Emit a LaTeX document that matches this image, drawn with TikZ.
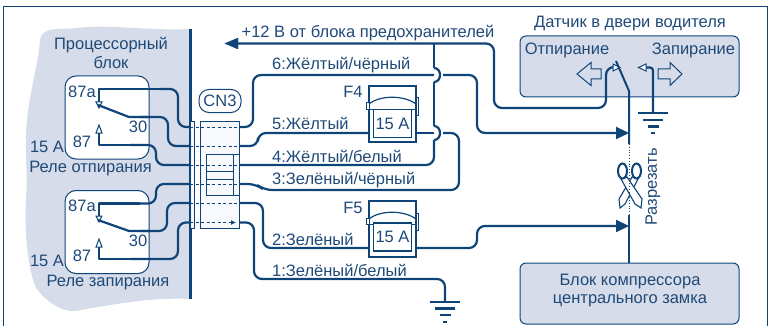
\documentclass[tikz,border=0pt]{standalone}
\usepackage{fontspec}
\setmainfont{Liberation Sans}
\usetikzlibrary{arrows.meta}
\definecolor{ink}{HTML}{0F4479}
\definecolor{txt}{HTML}{1F4A78}
\definecolor{panel}{HTML}{D6DCE9}
\definecolor{pale}{HTML}{F8F9FC}
\tikzset{
  wire/.style={draw=ink,line width=2.2pt,rounded corners=8pt,line join=round},
  thinl/.style={draw=ink,line width=1pt},
  pinline/.style={draw=ink,line width=.8pt,dash pattern=on 3pt off 2.5pt},
  lbl/.style={text=txt,font=\fontsize{16.5}{17}\selectfont,inner sep=0pt},
  llbl/.style={lbl,anchor=west},
  relaybox/.style={draw=ink,line width=1pt,fill=white,rounded corners=11pt,minimum width=84pt,minimum height=83pt,inner sep=0pt},
  greybox/.style={draw=ink,line width=1pt,fill=panel,rounded corners=6pt,minimum width=219pt,minimum height=61pt,inner sep=0pt},
  fuseout/.style={draw=ink,line width=1.2pt,fill=white,minimum width=47pt,minimum height=56pt,inner sep=0pt},
  fusein/.style={draw=ink,line width=1.2pt,fill=white,minimum width=38pt,minimum height=28pt,inner sep=0pt,text=txt,font=\fontsize{16.5}{17}\selectfont},
  bigtip/.style={-{Triangle[length=13pt,width=12pt]}},
  gbar/.style={draw=ink,line width=2.3pt},
  hollow/.style={draw=ink,line width=1pt,fill=white,line join=miter},
}
\begin{document}
\begin{tikzpicture}[x=1pt,y=-1pt]
\useasboundingbox (0,0) rectangle (775,326);
% outer frame
\draw[ink,line width=1pt] (3.5,326) -- (3.5,7) -- (767,7) -- (767,326);
% processor block
\fill[panel] (190,29) .. controls (150,31) and (110,24) .. (76,28)
  .. controls (60,30) and (42,26) .. (40,40)
  .. controls (39,60) and (30,90) .. (27,120)
  .. controls (24,150) and (28,170) .. (26,200)
  .. controls (24,230) and (28,270) .. (36,288)
  .. controls (45,300) and (60,312) .. (75,311)
  .. controls (110,305) and (150,297) .. (190,299) -- cycle;
\draw[ink,line width=3pt] (190,29) -- (190,299);
\node[lbl] (t1) at (111,45) {Процессорный};
\node[lbl] (t2) at (111,63) {блок};
% relays
\node[relaybox] (r1) at (107,117.5) {};
\node[relaybox] (r2) at (107,232) {};
\node[lbl] (a1) at (82,92) {87a};
\node[lbl] (b1) at (138,127) {30};
\node[lbl] (c1) at (82,142) {87};
\node[lbl] (d1) at (47,147) {15 А};
\node[lbl] (e1) at (90.5,169) {Реле отпирания};
\node[lbl] (a2) at (82,206) {87a};
\node[lbl] (b2) at (138,241) {30};
\node[lbl] (c2) at (82,256) {87};
\node[lbl] (d2) at (47,261) {15 А};
\node[lbl] (e2) at (108,283) {Реле запирания};
% connector
\node[draw=ink,line width=1pt,fill=pale,minimum width=4pt,minimum height=107pt,inner sep=0pt] (strip) at (192,174.5) {};
\node[draw=ink,line width=1pt,fill=pale,minimum width=39pt,minimum height=107pt,inner sep=0pt] (cn) at (219.5,174.5) {};
\node[draw=ink,line width=1pt,fill=pale,minimum width=33pt,minimum height=41pt,inner sep=0pt] (inner) at (222.5,174.5) {};
\draw[thinl] (233,154) -- (233,195) (206,171) -- (233,171) (206,179) -- (233,179);
\node[draw=ink,line width=1pt,fill=white,rounded corners=10pt,minimum width=42pt,minimum height=23pt,inner sep=0pt,text=txt,font=\fontsize{16.5}{17}\selectfont] (cn3) at (220,101) {CN3};
% connector pins
\foreach \n/\y in {1/222.5,2/203,3/184,4/165,5/146,6/127}{
  \coordinate (pl\n) at (190,\y);
  \coordinate (pr\n) at (239,\y);
}
\foreach \n in {2,3,4,5,6}{\draw[pinline] (pl\n) -- (pr\n);}
\draw[pinline,-{Latex[length=5pt,width=5pt]}] (pl1) -- (236,222.5);
% relay 1 wiring
\coordinate (k1) at (99,89);
\coordinate (k2) at (99,203.5);
\draw[wire,sharp corners] (99,103) -- (k1) -- (165,89);
\draw[wire] (160,89) -- (178,89) -- (178,127) -- (pl6);
\draw[hollow] (96,102) -- (102,102) -- (99,108) -- cycle;
\draw[wire,sharp corners] (98,105) -- (129,117) -- (150,117);
\draw[wire] (140,117) -- (168,117) -- (168,146) -- (pl5);
\draw[wire,sharp corners] (99,133) -- (99,145) -- (140,145);
\draw[wire] (130,145) -- (156,145) -- (156,165) -- (pl4);
\draw[hollow] (96,133) -- (102,133) -- (99,125) -- cycle;
% relay 2 wiring
\draw[wire,sharp corners] (99,216) -- (k2) -- (140,203.5);
\draw[wire] (130,203.5) -- (156,203.5) -- (156,184) -- (pl3);
\draw[hollow] (96,216) -- (102,216) -- (99,222) -- cycle;
\draw[wire,sharp corners] (98,220) -- (129,231) -- (150,231);
\draw[wire] (140,231) -- (167,231) -- (167,203) -- (pl2);
\draw[wire,sharp corners] (99,247) -- (99,259) -- (140,259);
\draw[wire] (130,259) -- (178,259) -- (178,222.5) -- (pl1);
\draw[hollow] (96,247) -- (102,247) -- (99,239) -- cycle;
% fuses
\node[fuseout] (f4) at (392.5,114) {};
\node[fuseout] (f5) at (392.5,229) {};
\foreach \f/\o in {f4/0,f5/115}{
  \begin{scope}[yshift=-\o pt]
    \draw[thinl,fill=white] (366,103) rectangle (369,109);
    \draw[thinl,fill=white] (416,98) rectangle (418.5,115);
    \draw[draw=ink,line width=1.2pt] (369,104) .. controls (380,95) and (404,95) .. (416,104);
    \draw[thinl] (369,109) -- (416,109);
  \end{scope}
}
\node[fusein] (i4) at (392.5,123.5) {15 А};
\node[fusein] (i5) at (392.5,237) {15 А};
\node[lbl] (n4) at (353,92) {F4};
\node[lbl] (n5) at (353,208) {F5};
\coordinate (f4l) at (369,133);
\coordinate (f4r) at (416,133);
\coordinate (f5l) at (369,248);
\coordinate (f5r) at (416,248);
% wire labels
\node[llbl] (w6) at (272,65) {6:Жёлтый/чёрный};
\node[llbl] (w5) at (272,123) {5:Жёлтый};
\node[llbl] (w4) at (272,156) {4:Жёлтый/белый};
\node[llbl] (w3) at (272,180) {3:Зелёный/чёрный};
\node[llbl] (w2) at (272,239) {2:Зелёный};
\node[llbl] (w1) at (272,270) {1:Зелёный/белый};
\node[lbl] (w0) at (368,33) {+12 В от блока предохранителей};
% sensor and compressor
\node[greybox] (sens) at (629.5,66.5) {};
\node[greybox] (comp) at (629.5,293.5) {};
\node[lbl] (st) at (630,24) {Датчик в двери водителя};
\node[lbl] (s1) at (567,50) {Отпирание};
\node[lbl] (s2) at (693.5,50) {Запирание};
\node[lbl] (ct1) at (630,282) {Блок компрессора};
\node[lbl] (ct2) at (630,301) {центрального замка};
\node[lbl,rotate=90] (cut) at (653,187) {Разрезать};
% hollow arrows in the sensor
\draw[hollow,fill=panel] (577,74) -- (591,62.5) -- (591,69) -- (601,69) -- (601,79) -- (591,79) -- (591,85.5) -- cycle;
\draw[hollow,fill=panel] (682,74) -- (670,62.5) -- (670,69) -- (658,69) -- (658,79) -- (670,79) -- (670,85.5) -- cycle;
% main wires on the right
\coordinate (hinge) at (629,91);
\coordinate (topq) at (629,144);
\coordinate (botq) at (629,215);
\coordinate (tip1) at (629,133);
\coordinate (tip2) at (629,226);
\coordinate (gnd1) at (653,113);
\coordinate (gnd2) at (445,302);
% +12 V
\draw[wire] (238,43.5) -- (494,43.5) -- (494,108) -- (606,108) -- (606,67) -- (613,67);
\draw[draw=ink,fill=ink] (225,43.5) -- (238,38) -- (238,49) -- cycle;
\draw[hollow] (613,64) -- (620,67.5) -- (613,71) -- cycle;
% switch
\draw[draw=ink,line width=2pt] (616,61) -- (hinge) -- (topq);
\draw[draw=ink,line width=2pt] (botq) -- (comp.north -| botq);
\draw[wire,rounded corners=3pt] (646,67.5) -- (653,67.5) -- (gnd1);
\draw[hollow] (646,64) -- (638.5,67.5) -- (646,71) -- cycle;
\draw[gbar] (638,113) -- (668,113);
\draw[gbar] (643,120) -- (663,120);
\draw[gbar] (648,126.5) -- (659,126.5);
\draw[gbar] (651,133) -- (655,133);
% wire 6
\draw[wire] (pr6) -- (253,127) -- (253,75) -- (434,75);
\draw[wire,bigtip] (443,75) -- (477,75) -- (477,133) -- (tip1);
% wire 5
\draw[wire] (pr5) -- (258,146) -- (258,133) -- (f4l);
\draw[wire] (f4r) -- (434,133);
% wire 3
\draw[wire] (443,133) -- (459,133) -- (459,190) -- (264,190) -- (256,184) -- (pr3);
% wire 4 (jumps over 6 and 5)
\draw[wire] (pr4) -- (434,165) -- (434,140);
\draw[draw=ink,line width=2.2pt] (434,140) .. controls (442,140) and (442,126) .. (434,126);
\draw[draw=ink,line width=2.2pt] (434,126) -- (434,82);
\draw[draw=ink,line width=2.2pt] (434,82) .. controls (442,82) and (442,68) .. (434,68);
\draw[draw=ink,line width=2.2pt] (434,68) -- (434,43.5);
% wire 2
\draw[wire] (pr2) -- (263,203) -- (263,248) -- (f5l);
\draw[wire,bigtip] (f5r) -- (477,248) -- (477,226) -- (tip2);
% wire 1
\draw[wire] (pr1) -- (254,222.5) -- (254,279) -- (445,279) -- (gnd2);
\draw[gbar] (430,302) -- (460,302);
\draw[gbar] (435,308.5) -- (455,308.5);
\draw[gbar] (439.5,315) -- (450.5,315);
\draw[gbar] (443,322) -- (447,322);
% scissors
\draw[hollow,line width=1.1pt] (632,177) -- (638,179) -- (625,204) -- (620,208) -- (619,199) -- cycle;
\draw[hollow,line width=1.1pt] (627,177) -- (621,179) -- (635,204) -- (641,208) -- (642,199) -- cycle;
\draw[hollow,line width=2pt] (622.5,171) ellipse [x radius=4.5pt,y radius=7.5pt];
\draw[hollow,line width=2pt] (636.5,171) ellipse [x radius=4.5pt,y radius=7.5pt];
\draw[draw=ink,line width=.8pt,dotted] (topq) -- (botq);
\end{tikzpicture}
\end{document}
